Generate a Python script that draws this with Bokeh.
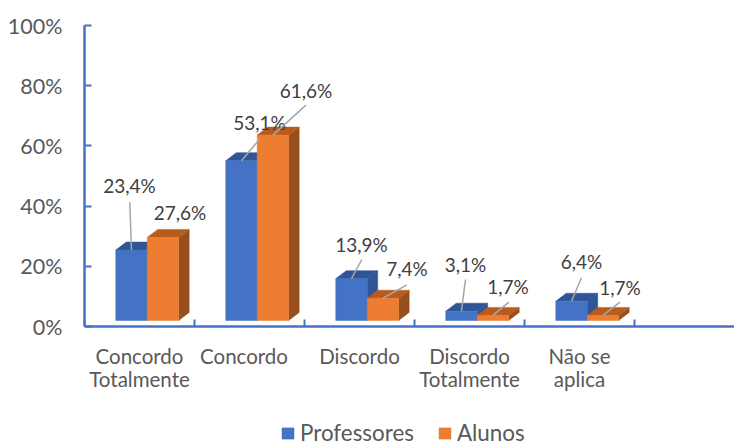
from bokeh.plotting import figure
from bokeh.embed import file_html
from bokeh.resources import INLINE
from bokeh.models import Range1d, FixedTicker, Legend, LegendItem, ColumnDataSource
from bokeh.core.properties import value

categories = ["Concordo\nTotalmente", "Concordo", "Discordo", "Discordo\nTotalmente", "Não se\naplica"]
professores = [23.4, 53.1, 13.9, 3.1, 6.4]
alunos = [27.6, 61.6, 7.4, 1.7, 1.7]
y_ticks = [0, 20, 40, 60, 80, 100]

# Layout constants (px offsets for the data labels and their leader lines)
PX_X, PX_Y = 110.0, 3.01
BAR_W, BAR_START = 0.286, 0.284
DEPTH_X, DEPTH_Y = 10.5 / PX_X, 8 / PX_Y
FLOOR = 6 / PX_Y
label_off = {"p": [(-2, -65), (18, -38), (10, -34), (4, -47), (10, -40)],
             "a": [(17, -25), (33, -45), (24, -30), (15, -29), (17, -28)]}
tip_off = {"p": [(-1.7, -48), (18.6, -22), (10.3, -19), (4, -31.5), (10, -23.5)],
           "a": [None, (33, -30), (24, -13.4), (16, -13.3), (17, -13.3)]}

p = figure(width=734, height=446, output_backend="svg", toolbar_location=None,
           x_range=Range1d(0, 650 / PX_X), y_range=Range1d(-120 / PX_Y, 326 / PX_Y),
           min_border_left=84, min_border_right=0, min_border_top=0, min_border_bottom=0)
p.outline_line_color = None
p.grid.visible = False


def bar(values, shift, front, top, side):
    x0 = [i + BAR_START + shift * BAR_W for i in range(len(values))]
    x1 = [x + BAR_W for x in x0]
    y1 = [FLOOR + v for v in values]
    tops_x = [[a, a + DEPTH_X, b + DEPTH_X, b] for a, b in zip(x0, x1)]
    tops_y = [[t, t + DEPTH_Y, t + DEPTH_Y, t] for t in y1]
    sides_x = [[b, b + DEPTH_X, b + DEPTH_X, b] for b in x1]
    sides_y = [[FLOOR, FLOOR + DEPTH_Y, t + DEPTH_Y, t] for t in y1]
    p.patches(sides_x, sides_y, fill_color=side, line_color=side, line_width=0.5)
    p.patches(tops_x, tops_y, fill_color=top, line_color=top, line_width=0.5)
    return p.quad(left=x0, right=x1, bottom=[FLOOR] * len(values), top=y1,
                  fill_color=front, line_color=front, line_width=0.5)


r_p = bar(professores, 0, "#4472C4", "#2F5597", "#2F5597")
r_a = bar(alunos, 1, "#ED7D31", "#B85C1E", "#97501D")


def labels(values, shift, key):
    cx = [i + BAR_START + (shift + 0.5) * BAR_W for i in range(len(values))]
    ty = [FLOOR + v for v in values]
    sx0, sy0, sx1, sy1 = [], [], [], []
    for x, y, tip in zip(cx, ty, tip_off[key]):
        if tip is not None:
            sx0.append(x); sy0.append(y)
            sx1.append(x + tip[0] / PX_X); sy1.append(y - tip[1] / PX_Y)
    p.segment(sx0, sy0, sx1, sy1, line_color="#A6A6A6", line_width=1.5)
    src = ColumnDataSource(dict(
        x=cx, y=ty,
        t=[f"{v:.1f}%".replace(".", ",") for v in values],
        dx=[o[0] for o in label_off[key]], dy=[o[1] for o in label_off[key]]))
    p.text(x="x", y="y", text="t", x_offset="dx", y_offset="dy", source=src,
           text_align="center", text_baseline="middle", text_color="#404040",
           text_font=value("Lato"), text_font_size="19px")


labels(professores, 0, "p")
labels(alunos, 1, "a")

BLUE = "#4472C4"
ya = p.yaxis[0]
ya.ticker = FixedTicker(ticks=y_ticks, minor_ticks=[])
ya.bounds = (0, 100)
ya.major_label_overrides = {t: f"{t}%" for t in y_ticks}
ya.axis_line_color = BLUE
ya.axis_line_width = 2.5
ya.major_tick_line_color = BLUE
ya.major_tick_line_width = 2
ya.major_tick_in = 7
ya.major_tick_out = 0
ya.minor_tick_in = 0
ya.minor_tick_out = 0
ya.major_label_standoff = 22
ya.major_label_text_font = "Lato"
ya.major_label_text_font_size = "21.5px"
ya.major_label_text_color = "#595959"

xa = p.xaxis[0]
centers = [0.5, 1.45, 2.5, 3.5, 4.5]
xa.fixed_location = 0
xa.ticker = FixedTicker(ticks=centers, minor_ticks=list(range(0, 6)))
xa.major_label_overrides = dict(zip(centers, categories))
xa.axis_line_color = BLUE
xa.axis_line_width = 2.5
xa.major_tick_line_color = None
xa.major_tick_in = 0
xa.major_tick_out = 0
xa.minor_tick_line_color = BLUE
xa.minor_tick_line_width = 2
xa.minor_tick_in = 7
xa.minor_tick_out = 0
xa.major_label_standoff = 17
xa.major_label_text_font = "Lato"
xa.major_label_text_font_size = "20.5px"
xa.major_label_text_line_height = 0.97
xa.major_label_text_color = "#595959"

legend = Legend(items=[LegendItem(label="Professores", renderers=[r_p]),
                       LegendItem(label="Alunos", renderers=[r_a])],
                orientation="horizontal", location=(196, 0),
                background_fill_alpha=0, border_line_color=None,
                label_text_font="Lato", label_text_font_size="22.4px",
                label_text_color="#595959", glyph_width=15, glyph_height=14,
                spacing=23, label_standoff=5, margin=0, padding=3)
p.add_layout(legend)

open("out.html", "w").write(file_html(p, INLINE))
